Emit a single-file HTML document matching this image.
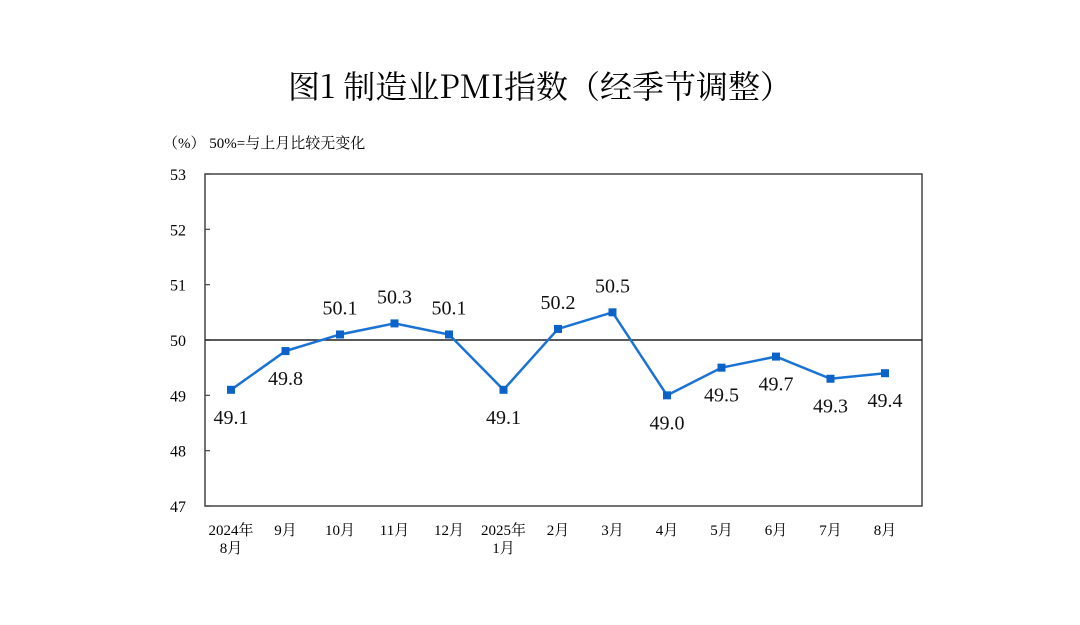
<!DOCTYPE html>
<html><head><meta charset="utf-8"><style>
body{margin:0;background:#fff;}
svg{display:block;font-family:"Liberation Serif","Noto Serif CJK SC",serif;}
</style></head><body>
<svg width="1080" height="625" viewBox="0 0 1080 625">
<text x="540" y="98" text-anchor="middle" font-size="32" fill="#000" font-family="Noto Serif CJK SC, serif">图1  制造业PMI指数（经季节调整）</text>
<text x="163" y="148" font-size="15" fill="#000">（%） 50%=与上月比较无变化</text>
<g id="plot"></g>
</svg>
<script>
const categories=[["2024年","8月"],["9月"],["10月"],["11月"],["12月"],["2025年","1月"],["2月"],["3月"],["4月"],["5月"],["6月"],["7月"],["8月"]];
const values=[49.1,49.8,50.1,50.3,50.1,49.1,50.2,50.5,49.0,49.5,49.7,49.3,49.4];
const labelPos=["b","b","a","a","a","b","a","a","b","b","b","b","b"];
const yTicks=[47,48,49,50,51,52,53];
const L=205,R=922,T=174,B=506,yMin=47,yMax=53;
const NS="http://www.w3.org/2000/svg";
const g=document.getElementById('plot');
function y(v){return B-(v-yMin)/(yMax-yMin)*(B-T);}
function x(i){return 231+i*(885-231)/(categories.length-1);}
function el(t,a){const e=document.createElementNS(NS,t);for(const k in a)e.setAttribute(k,a[k]);g.appendChild(e);return e;}
let f=el('rect',{x:L,y:T,width:R-L,height:B-T,fill:'none',stroke:'#444','stroke-width':1.5});


yTicks.forEach(v=>{
 let t=el('line',{x1:L,x2:L+5,y1:y(v),y2:y(v),stroke:'#444','stroke-width':1.2});
 
 
 let tx=el('text',{x:178,y:y(v)+6,'font-size':16,'text-anchor':'middle'});tx.textContent=v;
 
 
});
let ref=el('line',{x1:L,x2:R,y1:y(50),y2:y(50),stroke:'#222','stroke-width':1.5});


categories.forEach((c,i)=>{
 c.forEach((s,j)=>{let t=el('text',{x:x(i),y:535+j*18,'font-size':15,'text-anchor':'middle'});t.textContent=s;
 
 });
});
let p=el('polyline',{points:values.map((v,i)=>x(i)+','+y(v)).join(' '),fill:'none',stroke:'#1a73d4','stroke-width':2.5});


values.forEach((v,i)=>{
 let m=el('rect',{x:x(i)-4,y:y(v)-4,width:8,height:8,fill:'#0b63c9'});
 
 
 let t=el('text',{x:x(i),y:labelPos[i]=='a'?y(v)-20:y(v)+34,'font-size':20,'text-anchor':'middle',fill:'#111'});
 t.textContent=v.toFixed(1);
 
 
});
</script>
</body></html>
